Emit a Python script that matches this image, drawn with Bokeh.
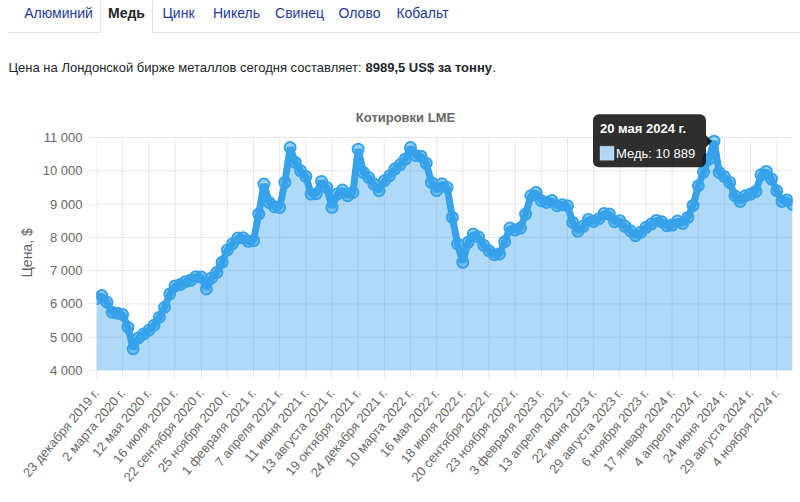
import math
from bokeh.plotting import figure
from bokeh.layouts import column
from bokeh.models import Range1d, FixedTicker, Label, BoxAnnotation, ColumnDataSource, Title
from bokeh.embed import file_html
from bokeh.resources import INLINE
from bokeh.core.properties import value

# ---------------- data ----------------
tab_names = ["Алюминий", "Медь", "Цинк", "Никель", "Свинец", "Олово", "Кобальт"]
active_tab = "Медь"
intro_text = "Цена на Лондонской бирже металлов сегодня составляет:"
price_today = "8989,5 US$ за тонну"

chart_title = "Котировки LME"
y_axis_title = "Цена, $"
series_name = "Медь"
peak_date = "20 мая 2024 г."

tick_dates = [
    "23 декабря 2019 г.", "2 марта 2020 г.", "12 мая 2020 г.", "16 июля 2020 г.",
    "22 сентября 2020 г.", "25 ноября 2020 г.", "1 февраля 2021 г.", "7 апреля 2021 г.",
    "11 июня 2021 г.", "13 августа 2021 г.", "19 октября 2021 г.", "24 декабря 2021 г.",
    "10 марта 2022 г.", "16 мая 2022 г.", "18 июля 2022 г.", "20 сентября 2022 г.",
    "23 ноября 2022 г.", "3 февраля 2023 г.", "13 апреля 2023 г.", "22 июня 2023 г.",
    "29 августа 2023 г.", "6 ноября 2023 г.", "17 января 2024 г.", "4 апреля 2024 г.",
    "24 июня 2024 г.", "29 августа 2024 г.", "4 ноября 2024 г.",
]
points_per_tick = 5

prices = [
    6160, 6250, 6050, 5750, 5720,
    5680, 5300, 4650, 4980, 5100,
    5210, 5360, 5600, 5900, 6300,
    6540, 6580, 6670, 6710, 6820,
    6810, 6450, 6780, 6950, 7250,
    7620, 7810, 7980, 7990, 7880,
    7900, 8700, 9600, 9050, 8920,
    8900, 9650, 10700, 10250, 10000,
    9830, 9300, 9310, 9680, 9500,
    8900, 9300, 9420, 9250, 9350,
    10650, 9950, 9800, 9600, 9400,
    9700, 9850, 10050, 10180, 10350,
    10700, 10460, 10440, 10230, 9650,
    9400, 9610, 9500, 8600, 7800,
    7250, 7850, 8100, 8010, 7760,
    7600, 7480, 7500, 7870, 8280,
    8220, 8280, 8700, 9250, 9350,
    9100, 9050, 9110, 8950, 8980,
    8950, 8450, 8180, 8330, 8540,
    8480, 8560, 8720, 8700, 8470,
    8500, 8330, 8200, 8050, 8150,
    8300, 8400, 8510, 8470, 8350,
    8370, 8490, 8420, 8600, 8960,
    9550, 9960, 10350, 10889, 9950,
    9820, 9650, 9250, 9080, 9250,
    9300, 9380, 9880, 9980, 9750,
    9400, 9080, 9120, 8990,
]

y_ticks = [4000, 5000, 6000, 7000, 8000, 9000, 10000, 11000]

# ---------------- style ----------------
W = 800
H_HEAD = 95
H_CHART = 502 - H_HEAD
HEAD_FONT = "Liberation Sans"
CHART_FONT = "Liberation Sans"
BLUE = "#36a2eb"
GRID = "#e6e6e6"
TICK_COLOR = "#666666"

# ---------------- header ----------------
head = figure(width=W, height=H_HEAD, x_range=Range1d(0, W), y_range=Range1d(H_HEAD, 0),
              output_backend="svg", toolbar_location=None, min_border=0, title=None)
head.frame_align = False
head.axis.visible = False
head.grid.visible = False
head.outline_line_color = None
head.background_fill_color = "white"
head.border_fill_color = "white"

tab_centers = [58, 126, 178, 236, 299, 359, 422]
active_left, active_right, bar_y = 100, 152, 32
head.segment(x0=[8, active_right, active_left, active_right],
             y0=[bar_y, bar_y, 0, 0],
             x1=[active_left, W, active_left, active_right],
             y1=[bar_y, bar_y, bar_y, bar_y],
             line_color="#dee2e6", line_width=1)
tab_src = ColumnDataSource(dict(
    x=tab_centers, y=[12] * len(tab_names), text=tab_names,
    color=["#212529" if t == active_tab else "#23399b" for t in tab_names],
    style=["bold" if t == active_tab else "normal" for t in tab_names],
))
head.text(x="x", y="y", text="text", source=tab_src, text_align="center",
          text_baseline="middle", text_font=value(HEAD_FONT), text_font_size="14px",
          text_color="color", text_font_style="style")
head.text(x=[8], y=[67], text=[intro_text], text_align="left", text_baseline="middle",
          text_font=value(HEAD_FONT), text_font_size="13px", text_color="#212529")
head.text(x=[365], y=[67], text=[price_today], text_align="left", text_baseline="middle",
          text_font=value(HEAD_FONT), text_font_size="13px", text_color="#212529",
          text_font_style="bold")
head.text(x=[492], y=[67], text=["."], text_align="left", text_baseline="middle",
          text_font=value(HEAD_FONT), text_font_size="13px", text_color="#212529")

# ---------------- chart ----------------
n = len(prices)
xs = list(range(n))
frame_left, frame_right = 96, 8
grid_top_page, frame_top_page, frame_bottom_page = 137, 112, 370
frame_w = W - frame_left - frame_right
frame_h = frame_bottom_page - frame_top_page
grid_h = frame_bottom_page - grid_top_page
y_top = y_ticks[0] + (y_ticks[-1] - y_ticks[0]) * frame_h / grid_h

p = figure(width=W, height=H_CHART, x_range=Range1d(0, n - 1), y_range=Range1d(y_ticks[0], y_top),
           output_backend="svg", toolbar_location=None, title=None,
           min_border_left=frame_left, min_border_right=frame_right,
           min_border_top=frame_top_page - H_HEAD, min_border_bottom=502 - frame_bottom_page)
p.frame_align = False
p.outline_line_color = None
p.grid.visible = False
p.background_fill_color = "white"
p.border_fill_color = "white"

dx = (n - 1) / frame_w          # data units per pixel (x)
dy = (y_top - y_ticks[0]) / frame_h  # data units per pixel (y)

def px_x(px):
    return (px - frame_left) * dx

def py_y(py_page):
    return y_ticks[0] + (frame_bottom_page - py_page) * dy

tick_idx = [i * points_per_tick for i in range(len(tick_dates))]

# grid
p.segment(x0=tick_idx, x1=tick_idx, y0=[y_ticks[0]] * len(tick_idx), y1=[y_ticks[-1]] * len(tick_idx),
          line_color=GRID, line_width=1)
p.segment(x0=[0] * len(y_ticks), x1=[n - 1] * len(y_ticks), y0=y_ticks, y1=y_ticks,
          line_color=GRID, line_width=1)

# area + line + points
p.varea(x=xs, y1=[y_ticks[0]] * n, y2=prices, fill_color=BLUE, fill_alpha=0.4)
p.line(xs, prices, line_color=BLUE, line_width=7)
p.scatter(xs, prices, size=11, marker="circle", line_color=BLUE, line_width=2,
          fill_color=BLUE, fill_alpha=0.5)

# axes
p.xaxis.ticker = FixedTicker(ticks=tick_idx)
p.xaxis.major_label_overrides = {t: lab for t, lab in zip(tick_idx, tick_dates)}
p.xaxis.major_label_orientation = math.radians(50)
p.yaxis.ticker = FixedTicker(ticks=y_ticks)
p.yaxis.major_label_overrides = {v: f"{v:,}".replace(",", " ") for v in y_ticks}
for ax in (p.xaxis, p.yaxis):
    ax.axis_line_color = None
    ax.major_tick_line_color = GRID
    ax.major_tick_in = 0
    ax.major_tick_out = 8
    ax.minor_tick_line_color = None
    ax.major_label_text_font = CHART_FONT
    ax.major_label_text_font_size = "13px"
    ax.major_label_text_color = TICK_COLOR
p.yaxis.major_label_standoff = 6
p.xaxis.major_label_standoff = 12

# y-axis title (left-side title, offset from the bottom of the frame)
p.add_layout(Title(text=y_axis_title, align="left", offset=frame_bottom_page - 277,
                   text_font=CHART_FONT, text_font_size="14px", text_font_style="normal",
                   text_color=TICK_COLOR), "left")

# chart title
p.add_layout(Label(x=px_x(405), y=py_y(117), text=chart_title, text_align="center",
                   text_baseline="middle", text_font=CHART_FONT, text_font_size="13px",
                   text_font_style="bold", text_color=TICK_COLOR))

# tooltip at the peak
pk = prices.index(max(prices))
pv = prices[pk]
box_right = pk - 8 * dx
box_left = box_right - 113 * dx
p.add_layout(BoxAnnotation(left=box_left, right=box_right, bottom=pv - 26 * dy, top=pv + 27 * dy,
                           fill_color="black", fill_alpha=0.82, line_color=None, border_radius=6,
                           level="overlay"))
p.patch(x=[box_right, pk - 2 * dx, box_right], y=[pv + 6 * dy, pv, pv - 6 * dy],
        fill_color="black", fill_alpha=0.82, line_color=None)
p.add_layout(BoxAnnotation(left=box_left + 7 * dx, right=box_left + 21 * dx,
                           bottom=pv - 19 * dy, top=pv - 5 * dy,
                           fill_color="#aed8f5", fill_alpha=1.0, line_color="white",
                           line_width=1, level="overlay"))
p.add_layout(Label(x=box_left + 7 * dx, y=pv + 13 * dy, text=peak_date, text_align="left",
                   text_baseline="middle", text_font=CHART_FONT, text_font_size="13px",
                   text_font_style="bold", text_color="white", level="overlay"))
peak_txt = f"{series_name}: " + f"{pv:,}".replace(",", " ")
p.add_layout(Label(x=box_left + 23 * dx, y=pv - 12 * dy, text=peak_txt, text_align="left",
                   text_baseline="middle", text_font=CHART_FONT, text_font_size="13px",
                   text_color="white", level="overlay"))

layout = column(head, p, spacing=0)
open("out.html", "w").write(file_html(layout, INLINE))
